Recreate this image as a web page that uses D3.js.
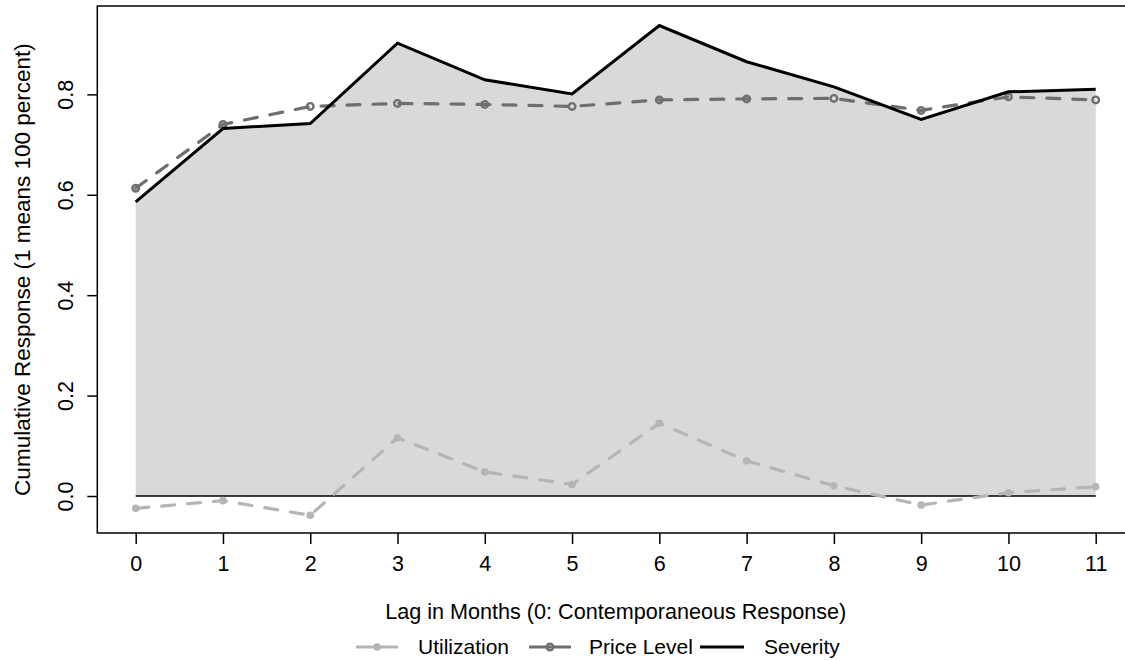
<!DOCTYPE html>
<html>
<head>
<meta charset="utf-8">
<title>Cumulative Response</title>
<style>
  body { margin: 0; background: #fff; }
  svg { display: block; font-family: "Liberation Sans", Arial, sans-serif; }
  .frame { fill: none; stroke: #000; stroke-width: 1.5; }
  .tick line { stroke: #000; stroke-width: 1.5; }
  .tick text { font-size: 21.5px; fill: #000; }
</style>
</head>
<body>
<svg width="1125" height="660"></svg>
<script src="https://d3js.org/d3.v7.min.js"></script>
<script>
// lag months 0..11
const lags = [0, 1, 2, 3, 4, 5, 6, 7, 8, 9, 10, 11];
const severity    = [0.586, 0.732, 0.742, 0.902, 0.829, 0.801, 0.937, 0.865, 0.815, 0.750, 0.805, 0.810];
const priceLevel  = [0.613, 0.740, 0.776, 0.782, 0.780, 0.776, 0.789, 0.791, 0.792, 0.768, 0.795, 0.789];
const utilization = [-0.0245, -0.0093, -0.0385, 0.116, 0.048, 0.023, 0.145, 0.070, 0.0205, -0.018, 0.0066, 0.0185];
const yTicks = [0.0, 0.2, 0.4, 0.6, 0.8];
const legendNames = ["Utilization", "Price Level", "Severity"];

const svg = d3.select('svg');

// plot box (right edge falls just outside the picture)
const boxLeft = 97.3, boxRight = 1134.1, boxTop = 6, boxBottom = 533;

const x = d3.scaleLinear().domain([-0.44, 11.44]).range([boxLeft, boxRight]);
const y = d3.scaleLinear().domain([-0.0737, 0.976]).range([boxBottom, boxTop]);

const line = (vals) => d3.line().x((d, i) => x(lags[i])).y(d => y(d))(vals);

// shaded area between zero and severity
svg.append('path')
    .datum(severity)
    .attr('fill', '#d9d9d9')
    .attr('d', d3.area().x((d, i) => x(lags[i])).y0(y(0)).y1(d => y(d)));

// zero line
svg.append('line')
    .attr('x1', x(0)).attr('x2', x(11))
    .attr('y1', y(0)).attr('y2', y(0))
    .attr('stroke', '#000').attr('stroke-width', 1.5);

// utilization: light grey dashed with filled dots
const utilColor = '#b5b5b5';
svg.append('path')
    .attr('d', line(utilization))
    .attr('fill', 'none').attr('stroke', utilColor)
    .attr('stroke-width', 3.2).attr('stroke-dasharray', '13 13')
    .attr('stroke-linecap', 'round').attr('stroke-linejoin', 'round');
svg.append('g').selectAll('circle')
    .data(utilization).join('circle')
    .attr('cx', (d, i) => x(lags[i])).attr('cy', d => y(d))
    .attr('r', 3.8).attr('fill', utilColor);

// price level: darker grey dashed with open circles
const priceColor = '#6e6e6e';
svg.append('path')
    .attr('d', line(priceLevel))
    .attr('fill', 'none').attr('stroke', priceColor)
    .attr('stroke-width', 3.2).attr('stroke-dasharray', '13 13')
    .attr('stroke-linecap', 'round').attr('stroke-linejoin', 'round');
svg.append('g').selectAll('circle')
    .data(priceLevel).join('circle')
    .attr('cx', (d, i) => x(lags[i])).attr('cy', d => y(d))
    .attr('r', 3.3).attr('fill', 'none')
    .attr('stroke', priceColor).attr('stroke-width', 2.4);

// severity: solid black
svg.append('path')
    .attr('d', line(severity))
    .attr('fill', 'none').attr('stroke', '#000')
    .attr('stroke-width', 3).attr('stroke-linejoin', 'miter');

// frame
svg.append('rect').attr('class', 'frame')
    .attr('x', boxLeft).attr('y', boxTop)
    .attr('width', boxRight - boxLeft).attr('height', boxBottom - boxTop);

// axes
const xAxis = d3.axisBottom(x).tickValues(lags).tickFormat(d3.format('d'))
    .tickSize(11).tickSizeOuter(0).tickPadding(12);
const gx = svg.append('g').attr('transform', `translate(0,${boxBottom})`).call(xAxis);
gx.select('.domain').remove();

const yAxis = d3.axisLeft(y).tickValues(yTicks).tickFormat(d3.format('.1f'))
    .tickSize(10).tickSizeOuter(0).tickPadding(0);
const gy = svg.append('g').attr('transform', `translate(${boxLeft},0)`).call(yAxis);
gy.select('.domain').remove();
gy.selectAll('.tick text')
    .attr('x', 0).attr('dy', null)
    .attr('text-anchor', 'middle')
    .attr('transform', 'translate(-24,0) rotate(-90)');

// axis titles
svg.append('text')
    .attr('x', (boxLeft + boxRight) / 2).attr('y', 619)
    .attr('text-anchor', 'middle').attr('font-size', 21.6)
    .text('Lag in Months (0: Contemporaneous Response)');

svg.append('text')
    .attr('transform', `translate(30,${(boxTop + boxBottom) / 2}) rotate(-90)`)
    .attr('text-anchor', 'middle').attr('font-size', 22.5)
    .text('Cumulative Response (1 means 100 percent)');

// legend
const legendY = 647;
const legendItems = [
    { name: legendNames[0], x0: 356, x1: 398, tx: 418, color: utilColor, mark: 'dot' },
    { name: legendNames[1], x0: 529, x1: 571, tx: 589, color: priceColor, mark: 'ring' },
    { name: legendNames[2], x0: 700, x1: 744, tx: 764, color: '#000', mark: null }
];
const lg = svg.append('g').selectAll('g').data(legendItems).join('g');
lg.append('line')
    .attr('x1', d => d.x0).attr('x2', d => d.x1)
    .attr('y1', legendY).attr('y2', legendY)
    .attr('stroke', d => d.color).attr('stroke-width', 3);
lg.filter(d => d.mark === 'dot').append('circle')
    .attr('cx', d => (d.x0 + d.x1) / 2).attr('cy', legendY).attr('r', 3.8)
    .attr('fill', d => d.color);
lg.filter(d => d.mark === 'ring').append('circle')
    .attr('cx', d => (d.x0 + d.x1) / 2).attr('cy', legendY).attr('r', 3.3)
    .attr('fill', 'none').attr('stroke', d => d.color).attr('stroke-width', 2.4);
lg.append('text')
    .attr('x', d => d.tx).attr('y', 654)
    .attr('font-size', 21)
    .text(d => d.name);
</script>
</body>
</html>
